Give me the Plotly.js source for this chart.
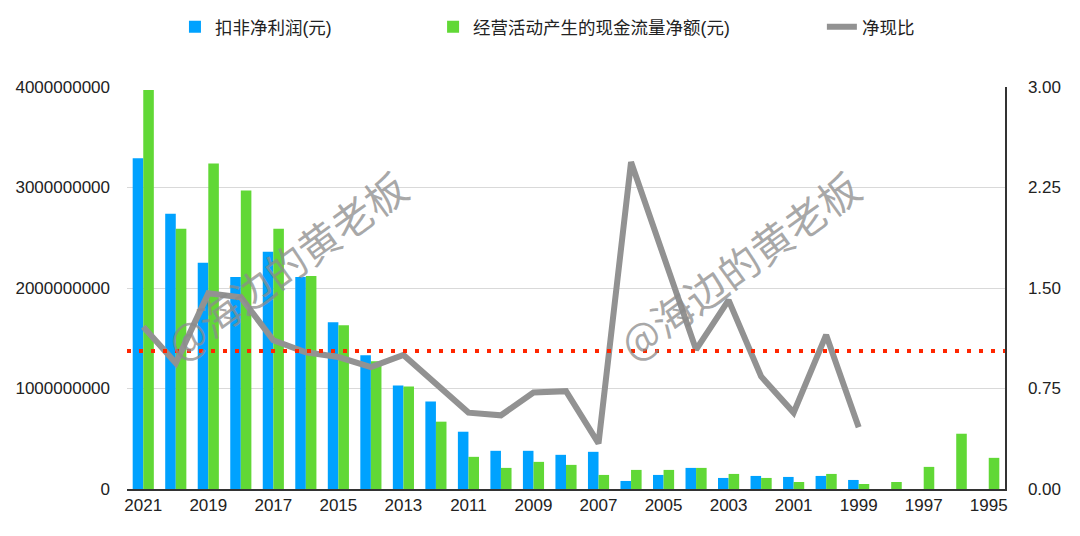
<!DOCTYPE html>
<html>
<head>
<meta charset="utf-8">
<script src="https://cdn.plot.ly/plotly-3.0.1.min.js"></script>
<style>
  html, body { margin: 0; padding: 0; background: #fff; }
  #chart { width: 1080px; height: 536px; }
</style>
</head>
<body>
<div id="chart"></div>
<script>
// ---- data ----
const years = ["2021","2020","2019","2018","2017","2016","2015","2014","2013","2012","2011","2010","2009","2008","2007","2006","2005","2004","2003","2002","2001","2000","1999","1998","1997","1996","1995"];
const tickYears = ["2021","2019","2017","2015","2013","2011","2009","2007","2005","2003","2001","1999","1997","1995"];
// 扣非净利润(元)
const netProfit = [3290000000, 2740000000, 2250000000, 2110000000, 2360000000, 2110000000, 1660000000, 1330000000, 1030000000, 870000000, 570000000, 380000000, 380000000, 340000000, 370000000, 80000000, 140000000, 210000000, 110000000, 130000000, 120000000, 130000000, 90000000, null, null, null, null];
// 经营活动产生的现金流量净额(元)
const cashFlow = [3970000000, 2590000000, 3240000000, 2970000000, 2590000000, 2120000000, 1630000000, 1270000000, 1020000000, 670000000, 320000000, 210000000, 270000000, 240000000, 140000000, 190000000, 190000000, 210000000, 150000000, 110000000, 70000000, 150000000, 50000000, 70000000, 220000000, 550000000, 310000000];
// 净现比
const ratio = [1.21, 0.94, 1.46, 1.43, 1.11, 1.02, 0.985, 0.91, 1.00, 0.78, 0.57, 0.55, 0.72, 0.73, 0.34, 2.44, 1.74, 1.04, 1.41, 0.84, 0.57, 1.15, 0.46, null, null, null, null];
const referenceRatio = 1.03;
const leftTicks = [0, 1000000000, 2000000000, 3000000000, 4000000000];
const rightTicks = [0, 0.75, 1.5, 2.25, 3];
const names = ["扣非净利润(元)", "经营活动产生的现金流量净额(元)", "净现比"];
const watermark = "@海边的黄老板";

const FONT = "'Liberation Sans', Arial, 'Noto Sans CJK SC', sans-serif";

const traces = [
  { type: "bar", x: years, y: netProfit, name: names[0], marker: { color: "#00A2FF" }, legend: "legend", hoverinfo: "skip" },
  { type: "bar", x: years, y: cashFlow, name: names[1], marker: { color: "#61D836" }, legend: "legend2", hoverinfo: "skip" },
  { type: "scatter", mode: "lines", x: years, y: ratio, yaxis: "y2", name: names[2],
    line: { color: "#929292", width: 6 }, legend: "legend3", hoverinfo: "skip" }
];

const legendBase = { orientation: "h", xref: "container", yref: "container", yanchor: "middle", y: 0.95, xanchor: "left",
  font: { family: FONT, size: 17.5, color: "#222" }, bgcolor: "rgba(0,0,0,0)" };

const layout = {
  width: 1080, height: 536,
  margin: { l: 127, r: 75, t: 87, b: 47 },
  paper_bgcolor: "#fff", plot_bgcolor: "#fff",
  font: { family: FONT, size: 17, color: "#222" },
  barmode: "group", bargap: 0.35, bargroupgap: 0,
  showlegend: true,
  legend: Object.assign({}, legendBase, { x: 0.162 }),
  legend2: Object.assign({}, legendBase, { x: 0.401 }),
  legend3: Object.assign({}, legendBase, { x: 0.761 }),
  xaxis: {
    type: "category", categoryorder: "array", categoryarray: years,
    tickvals: tickYears, ticktext: tickYears,
    showgrid: false, showline: true, linecolor: "#333", linewidth: 1.5,
    ticks: "", tickfont: { size: 17, color: "#222" }, zeroline: false
  },
  yaxis: {
    range: [0, 4000000000], tickvals: leftTicks, tickformat: "d",
    showgrid: true, gridcolor: "#d9d9d9", gridwidth: 1,
    showline: false, zeroline: false, ticks: "", ticklabelstandoff: 16,
    tickfont: { size: 17, color: "#222" }
  },
  yaxis2: {
    overlaying: "y", side: "right", range: [0, 3], tickvals: rightTicks, tickformat: ".2f",
    showgrid: false, zeroline: false, showline: true, linecolor: "#333", linewidth: 1.5,
    ticks: "", ticklabelstandoff: 18, tickfont: { size: 17, color: "#222" }
  },
  shapes: [
    { type: "line", xref: "paper", x0: 0, x1: 1, yref: "y2", y0: referenceRatio, y1: referenceRatio,
      line: { color: "#FF2600", width: 4, dash: "4px,8px" }, layer: "above" }
  ],
  annotations: [
    { text: watermark, xref: "paper", yref: "paper", x: 0.181, y: 0.56, xanchor: "center", yanchor: "middle", showarrow: false,
      textangle: -36, font: { family: "'Noto Sans CJK SC', sans-serif", size: 41, color: "rgba(140,140,140,0.75)" } },
    { text: watermark, xref: "paper", yref: "paper", x: 0.697, y: 0.56, xanchor: "center", yanchor: "middle", showarrow: false,
      textangle: -36, font: { family: "'Noto Sans CJK SC', sans-serif", size: 41, color: "rgba(140,140,140,0.75)" } }
  ]
};

Plotly.newPlot("chart", traces, layout, { displayModeBar: false, staticPlot: true });
</script>
</body>
</html>
